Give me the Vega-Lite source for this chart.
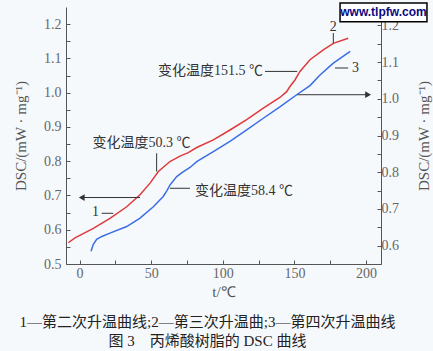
{
  "$schema": "https://vega.github.io/schema/vega-lite/v6.json",
  "width": 315,
  "height": 257,
  "autosize": {"type": "none"},
  "padding": {"left": 66, "top": 7, "right": 52, "bottom": 87},
  "background": "#f6f9fc",
  "config": {
    "view": {"stroke": null},
    "axis": {
      "grid": false,
      "domainColor": "#555",
      "tickColor": "#555",
      "labelColor": "#666",
      "labelFont": "Liberation Serif",
      "labelFontSize": 14,
      "labelOverlap": false,
      "titleFont": "Liberation Serif",
      "titleFontSize": 15,
      "titleFontWeight": "normal",
      "titleColor": "#555"
    }
  },
  "title": {
    "text": ["1—第二次升温曲线;2—第三次升温曲;3—第四次升温曲线", "图 3　丙烯酸树脂的 DSC 曲线"],
    "orient": "bottom",
    "anchor": "middle",
    "frame": "group",
    "offset": 16,
    "dx": -16,
    "fontSize": 15,
    "lineHeight": 19,
    "font": "Liberation Serif, Noto Sans CJK SC",
    "fontWeight": "normal",
    "color": "#222"
  },
  "datasets": {
    "red": [
      {"t": -7.9, "dsc": 0.562}, {"t": -3.2, "dsc": 0.576}, {"t": 9.6, "dsc": 0.604},
      {"t": 21.2, "dsc": 0.633}, {"t": 32.9, "dsc": 0.667}, {"t": 42.2, "dsc": 0.702},
      {"t": 49.2, "dsc": 0.736}, {"t": 55.0, "dsc": 0.770}, {"t": 63.1, "dsc": 0.799},
      {"t": 70.1, "dsc": 0.815}, {"t": 75.9, "dsc": 0.825}, {"t": 81.8, "dsc": 0.840},
      {"t": 93.4, "dsc": 0.862}, {"t": 105.0, "dsc": 0.891}, {"t": 116.7, "dsc": 0.921},
      {"t": 128.3, "dsc": 0.955}, {"t": 139.9, "dsc": 0.986}, {"t": 144.6, "dsc": 1.003},
      {"t": 146.9, "dsc": 1.018}, {"t": 150.4, "dsc": 1.037}, {"t": 153.9, "dsc": 1.062},
      {"t": 160.9, "dsc": 1.096}, {"t": 170.2, "dsc": 1.125}, {"t": 177.2, "dsc": 1.144},
      {"t": 187.6, "dsc": 1.159}
    ],
    "blue": [
      {"t": 8.0, "dsc": 0.585}, {"t": 9.5, "dsc": 0.603}, {"t": 11.9, "dsc": 0.617},
      {"t": 15.5, "dsc": 0.625}, {"t": 21.2, "dsc": 0.634}, {"t": 32.9, "dsc": 0.652},
      {"t": 42.2, "dsc": 0.675}, {"t": 51.5, "dsc": 0.706}, {"t": 58.4, "dsc": 0.734},
      {"t": 61.0, "dsc": 0.750}, {"t": 63.1, "dsc": 0.765}, {"t": 67.8, "dsc": 0.788},
      {"t": 72.0, "dsc": 0.800}, {"t": 77.1, "dsc": 0.813}, {"t": 81.8, "dsc": 0.829},
      {"t": 93.4, "dsc": 0.856}, {"t": 105.0, "dsc": 0.884}, {"t": 116.7, "dsc": 0.915},
      {"t": 128.3, "dsc": 0.947}, {"t": 139.9, "dsc": 0.978}, {"t": 151.6, "dsc": 1.011},
      {"t": 160.9, "dsc": 1.036}, {"t": 167.9, "dsc": 1.065}, {"t": 177.2, "dsc": 1.097},
      {"t": 189.0, "dsc": 1.129}
    ],
    "leaders": [
      {"t": 177.2, "t2": 177.2, "dsc": 1.174, "dsc2": 1.145},
      {"t": 178.4, "t2": 187.6, "dsc": 1.072, "dsc2": 1.072},
      {"t": 129.5, "t2": 152.0, "dsc": 1.062, "dsc2": 1.062},
      {"t": 151.6, "t2": 201.0, "dsc": 0.994, "dsc2": 0.994},
      {"t": 42.2, "t2": 2.0, "dsc": 0.694, "dsc2": 0.694},
      {"t": 15.4, "t2": 23.5, "dsc": 0.648, "dsc2": 0.648},
      {"t": 53.8, "t2": 53.8, "dsc": 0.823, "dsc2": 0.770},
      {"t": 63.1, "t2": 77.1, "dsc": 0.721, "dsc2": 0.721}
    ],
    "arrowRight": [{"t": 201.5, "dsc": 0.994}],
    "arrowLeft": [{"t": 1.5, "dsc": 0.694}],
    "labelsRight": [
      {"t": 128.1, "dsc": 1.062, "label": "变化温度151.5 ℃"},
      {"t": 13.5, "dsc": 0.653, "label": "1"}
    ],
    "labelsCenter": [
      {"t": 43.2, "dsc": 0.853, "label": "变化温度50.3 ℃"},
      {"t": 177.2, "dsc": 1.193, "label": "2"}
    ],
    "labelsLeft": [
      {"t": 80.6, "dsc": 0.713, "label": "变化温度58.4 ℃"},
      {"t": 190.2, "dsc": 1.072, "label": "3"}
    ],
    "markBox": [{"t": 181.9, "t2": 242.6, "dsc": 1.262, "dsc2": 1.207}],
    "markText": [{"t": 212.2, "dsc": 1.235, "label": "www.tlpfw.com"}]
  },
  "layer": [
    {
      "encoding": {
        "x": {
          "field": "t", "type": "quantitative",
          "scale": {"domain": [-9.5, 210.5], "nice": false, "zero": false},
          "axis": {
            "title": "t/℃",
            "values": [0, 25, 50, 75, 100, 125, 150, 175, 200],
            "labelExpr": "datum.value % 50 == 0 ? datum.label : ''",
            "labelOverlap": false,
            "tickSize": -4,
            "labelPadding": 6,
            "titlePadding": 4
          }
        },
        "y": {
          "field": "dsc", "type": "quantitative",
          "scale": {"domain": [0.5, 1.25], "nice": false, "zero": false},
          "axis": {
            "orient": "left",
            "title": "DSC/(mW · mg⁻¹)",
            "values": [0.5, 0.55, 0.6, 0.65, 0.7, 0.75, 0.8, 0.85, 0.9, 0.95, 1.0, 1.05, 1.1, 1.15, 1.2],
            "labelExpr": "abs(datum.value * 10 - round(datum.value * 10)) < 0.01 ? format(datum.value, '.1f') : ''",
            "labelOverlap": false,
            "tickSize": -4,
            "labelPadding": 9,
            "titlePadding": 15
          }
        }
      },
      "layer": [
        {
          "data": {"name": "red"},
          "mark": {"type": "line", "color": "#e0393b", "strokeWidth": 1.5}
        },
        {
          "data": {"name": "leaders"},
          "mark": {"type": "rule", "color": "#333", "strokeWidth": 1},
          "encoding": {"x2": {"field": "t2"}, "y2": {"field": "dsc2"}}
        },
        {
          "data": {"name": "arrowRight"},
          "mark": {"type": "point", "shape": "triangle-right", "filled": true, "color": "#333", "size": 45, "opacity": 1}
        },
        {
          "data": {"name": "arrowLeft"},
          "mark": {"type": "point", "shape": "triangle-left", "filled": true, "color": "#333", "size": 45, "opacity": 1}
        },
        {
          "data": {"name": "labelsRight"},
          "mark": {"type": "text", "align": "right", "baseline": "middle", "fontSize": 14, "font": "Liberation Serif, Noto Sans CJK SC", "color": "#333"},
          "encoding": {"text": {"field": "label"}}
        },
        {
          "data": {"name": "labelsCenter"},
          "mark": {"type": "text", "align": "center", "baseline": "middle", "fontSize": 14, "font": "Liberation Serif, Noto Sans CJK SC", "color": "#333"},
          "encoding": {"text": {"field": "label"}}
        },
        {
          "data": {"name": "labelsLeft"},
          "mark": {"type": "text", "align": "left", "baseline": "middle", "fontSize": 14, "font": "Liberation Serif, Noto Sans CJK SC", "color": "#333"},
          "encoding": {"text": {"field": "label"}}
        },
        {
          "data": {"name": "markBox"},
          "mark": {"type": "rect", "fill": "white", "stroke": "black", "strokeWidth": 1.5, "clip": false},
          "encoding": {"x2": {"field": "t2"}, "y2": {"field": "dsc2"}}
        },
        {
          "data": {"name": "markText"},
          "mark": {"type": "text", "align": "center", "baseline": "middle", "fontSize": 12, "fontWeight": "bold", "font": "Liberation Sans", "color": "#0a0a80"},
          "encoding": {"text": {"field": "label"}}
        }
      ]
    },
    {
      "data": {"name": "blue"},
      "mark": {"type": "line", "color": "#3b6de6", "strokeWidth": 1.5},
      "encoding": {
        "x": {
          "field": "t", "type": "quantitative",
          "scale": {"domain": [-9.5, 210.5], "nice": false, "zero": false},
          "axis": {
            "title": "t/℃",
            "values": [0, 25, 50, 75, 100, 125, 150, 175, 200],
            "labelExpr": "datum.value % 50 == 0 ? datum.label : ''",
            "labelOverlap": false,
            "tickSize": -4,
            "labelPadding": 6,
            "titlePadding": 4
          }
        },
        "y": {
          "field": "dsc", "type": "quantitative",
          "scale": {"domain": [0.55, 1.25], "nice": false, "zero": false},
          "axis": {
            "orient": "right",
            "title": "DSC/(mW · mg⁻¹)",
            "titleAngle": 270,
            "values": [0.55, 0.6, 0.65, 0.7, 0.75, 0.8, 0.85, 0.9, 0.95, 1.0, 1.05, 1.1, 1.15, 1.2],
            "labelExpr": "abs(datum.value * 10 - round(datum.value * 10)) < 0.01 ? format(datum.value, '.1f') : ''",
            "labelOverlap": false,
            "tickSize": -4,
            "labelPadding": 4,
            "titlePadding": 33
          }
        }
      }
    }
  ],
  "resolve": {"scale": {"y": "independent"}, "axis": {"y": "independent"}}
}
